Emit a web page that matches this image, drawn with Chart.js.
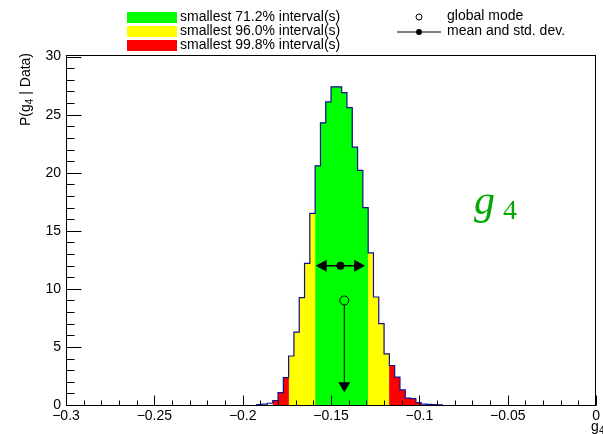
<!DOCTYPE html>
<html>
<head>
<meta charset="utf-8">
<script src="https://cdn.jsdelivr.net/npm/chart.js@4"></script>
<style>
  html, body { margin: 0; padding: 0; background: #fff; }
  #wrap { width: 603px; height: 434px; }
</style>
</head>
<body>
<div id="wrap"><canvas id="posterior" width="603" height="434"></canvas></div>
<script>
// posterior histogram of g4: bin width 0.003, first filled bin starts at -0.192
const binWidth = 0.003;
const firstEdge = -0.192;
const density = [0.03, 0.08, 0.15, 0.37, 1.06, 2.35, 4.22, 6.27, 9.25, 12.2, 16.5,
                 20.6, 24.3, 26.1, 27.4, 27.4, 26.9, 25.6, 22.2, 20.2, 17.0,
                 13.1, 9.3, 7.0, 4.4, 3.4, 2.4, 1.3, 0.6, 0.55, 0.2, 0.08, 0.05, 0.03, 0.02];
const binEdges = density.map((_, i) => firstEdge + i * binWidth);

// smallest intervals (narrow to wide)
const intervalLabels = ["smallest 71.2% interval(s)", "smallest 96.0% interval(s)", "smallest 99.8% interval(s)"];
const intervalLow = [-0.159, -0.174, -0.183];
const intervalHigh = [-0.129, -0.117, -0.099];
const intervalColors = ["#00ff00", "#ffff00", "#ff0000"];

// summary statistics
const meanValue = -0.1447;
const stdDev = 0.0140;
const meanMarkerY = 12.0;
const modeValue = -0.1425;
const modeMarkerY = 9.0;
const modeArrowEnd = 1.1;

// axis ticks
const xTicks = [-0.3, -0.25, -0.2, -0.15, -0.1, -0.05, 0];
const yTicks = [0, 5, 10, 15, 20, 25, 30];
const yMax = 30.14;

const FONT = "'Liberation Sans', Arial, sans-serif";

// step outline points for bins inside [lo, hi]
function stepPoints(lo, hi) {
    const pts = [];
    let last = 0;
    binEdges.forEach((e, i) => {
        if (e >= lo - 1e-9 && e + binWidth <= hi + 1e-9) {
            pts.push({ x: e, y: density[i] });
            last = density[i];
        }
    });
    pts.push({ x: hi, y: last });
    return pts;
}

// narrowest interval gets the lowest order so it is painted last
const fillSets = intervalLabels.map((label, i) => ({
    label: label,
    data: stepPoints(intervalLow[i], intervalHigh[i]),
    stepped: "before",
    fill: "origin",
    backgroundColor: intervalColors[i],
    borderColor: "rgba(0,0,0,0)",
    borderWidth: 0,
    pointRadius: 0,
    order: 2 + i,
}));

// full histogram outline
const outline = [{ x: binEdges[0], y: 0 }];
binEdges.forEach((e, i) => outline.push({ x: e, y: density[i] }));
outline.push({ x: binEdges[binEdges.length - 1] + binWidth, y: 0 });

function arrowHead(ctx, x, y, dir, len, half) {
    // dir: unit vector the head points to
    const [dx, dy] = dir;
    ctx.beginPath();
    ctx.moveTo(x, y);
    ctx.lineTo(x - dx * len - dy * half, y - dy * len + dx * half);
    ctx.lineTo(x - dx * len + dy * half, y - dy * len - dx * half);
    ctx.closePath();
    ctx.fill();
}

// frame, inward ticks, titles, legend, markers
const decorations = {
    id: "decorations",
    afterDatasetsDraw(chart) {
        const { ctx, chartArea: a, scales: { x, y } } = chart;
        ctx.save();

        // mean +- std dev
        const my = y.getPixelForValue(meanMarkerY);
        const xl = x.getPixelForValue(meanValue - stdDev);
        const xr = x.getPixelForValue(meanValue + stdDev);
        ctx.strokeStyle = "#000";
        ctx.fillStyle = "#000";
        ctx.lineWidth = 1.5;
        ctx.beginPath();
        ctx.moveTo(xl + 6, my);
        ctx.lineTo(xr - 6, my);
        ctx.stroke();
        arrowHead(ctx, xl, my, [-1, 0], 11, 6);
        arrowHead(ctx, xr, my, [1, 0], 11, 6);
        ctx.beginPath();
        ctx.arc(x.getPixelForValue(meanValue), my, 4, 0, Math.PI * 2);
        ctx.fill();

        // global mode
        const mx = x.getPixelForValue(modeValue);
        const moy = y.getPixelForValue(modeMarkerY);
        const tip = y.getPixelForValue(modeArrowEnd);
        ctx.lineWidth = 1;
        ctx.beginPath();
        ctx.arc(mx, moy, 4.5, 0, Math.PI * 2);
        ctx.stroke();
        ctx.beginPath();
        ctx.moveTo(mx, moy + 4.5);
        ctx.lineTo(mx, tip - 8);
        ctx.stroke();
        arrowHead(ctx, mx, tip, [0, 1], 10, 6);

        // frame
        ctx.strokeStyle = "#000";
        ctx.lineWidth = 1;
        ctx.strokeRect(Math.round(a.left) + 0.5, Math.round(a.top) + 0.5,
                       Math.round(a.right - a.left) - 1, Math.round(a.bottom - a.top));

        // x ticks, drawn inside the frame
        const bottom = Math.round(a.bottom) + 0.5;
        ctx.beginPath();
        for (let k = 0; k <= 30; k++) {
            const v = -0.3 + k * 0.01;
            const px = Math.round(x.getPixelForValue(v)) + 0.5;
            const len = k % 5 === 0 ? 10 : 5;
            ctx.moveTo(px, bottom);
            ctx.lineTo(px, bottom - len);
        }
        // y ticks
        const left = Math.round(a.left) + 0.5;
        for (let k = 0; k <= 30; k++) {
            const py = Math.round(y.getPixelForValue(k)) + 0.5;
            const len = k % 5 === 0 ? 15 : 8;
            ctx.moveTo(left, py);
            ctx.lineTo(left + len, py);
        }
        ctx.stroke();

        // y title, aligned to the top of the axis
        ctx.save();
        ctx.translate(30, a.top - 2);
        ctx.rotate(-Math.PI / 2);
        ctx.textAlign = "left";
        ctx.textBaseline = "alphabetic";
        ctx.fillStyle = "#000";
        const parts = [["P(g", 14, 0], ["4", 10, 3], [" | Data)", 14, 0]];
        let total = 0;
        parts.forEach(([t, s]) => { ctx.font = s + "px " + FONT; total += ctx.measureText(t).width; });
        let cx = -total;
        parts.forEach(([t, s, off]) => {
            ctx.font = s + "px " + FONT;
            ctx.fillText(t, cx, off);
            cx += ctx.measureText(t).width;
        });
        ctx.restore();

        // x title
        ctx.fillStyle = "#000";
        ctx.textAlign = "left";
        ctx.font = "14px " + FONT;
        ctx.fillText("g", 591, 431);
        ctx.font = "10px " + FONT;
        ctx.fillText("4", 599, 434);

        // parameter name
        ctx.fillStyle = "#00a800";
        ctx.font = "italic 42px 'Liberation Serif', 'DejaVu Serif', serif";
        ctx.fillText("g", 474, 214);
        ctx.font = "28px 'Liberation Serif', 'DejaVu Serif', serif";
        ctx.fillText("4", 503, 219);

        // legend
        ctx.font = "14px " + FONT;
        ctx.textBaseline = "middle";
        intervalLabels.forEach((label, i) => {
            const ty = 17 + i * 14;
            ctx.fillStyle = intervalColors[i];
            ctx.fillRect(127, ty - 5, 50, 11);
            ctx.fillStyle = "#000";
            ctx.fillText(label, 180, ty);
        });
        ctx.fillText("global mode", 447, 16);
        ctx.fillText("mean and std. dev.", 447, 31);
        ctx.lineWidth = 1;
        ctx.strokeStyle = "#000";
        ctx.beginPath();
        ctx.arc(419, 17, 3, 0, Math.PI * 2);
        ctx.stroke();
        ctx.beginPath();
        ctx.moveTo(397, 32);
        ctx.lineTo(441, 32);
        ctx.stroke();
        ctx.beginPath();
        ctx.arc(419, 32, 3, 0, Math.PI * 2);
        ctx.fill();

        ctx.restore();
    },
};

const chart = new Chart(document.getElementById("posterior").getContext("2d"), {
    type: "line",
    data: {
        datasets: [
            {
                label: "outline",
                data: outline,
                stepped: "before",
                fill: false,
                borderColor: "#101090",
                borderWidth: 1.2,
                pointRadius: 0,
                order: 1,
            },
            ...fillSets,
        ],
    },
    options: {
        responsive: false,
        animation: false,
        devicePixelRatio: 1,
        layout: { padding: { top: 55, right: 2, left: 0, bottom: 0 } },
        plugins: { legend: { display: false }, tooltip: { enabled: false } },
        scales: {
            x: {
                type: "linear",
                min: -0.3,
                max: 0,
                afterBuildTicks: (s) => { s.ticks = xTicks.map((v) => ({ value: v })); },
                afterFit: (s) => { s.height = 29; },
                grid: { display: false, drawTicks: false },
                border: { display: false },
                ticks: {
                    color: "#000",
                    font: { family: FONT, size: 14 },
                    padding: 3,
                    maxRotation: 0,
                    autoSkip: false,
                    callback: (v) => (v === 0 ? "0" : String(v).replace("-", "\u2212")),
                },
            },
            y: {
                min: 0,
                max: yMax,
                afterBuildTicks: (s) => { s.ticks = yTicks.map((v) => ({ value: v })); },
                afterFit: (s) => { s.width = 66; },
                grid: { display: false, drawTicks: false },
                border: { display: false },
                ticks: {
                    color: "#000",
                    font: { family: FONT, size: 14 },
                    padding: 5,
                    autoSkip: false,
                },
            },
        },
    },
    plugins: [decorations],
});
</script>
</body>
</html>
